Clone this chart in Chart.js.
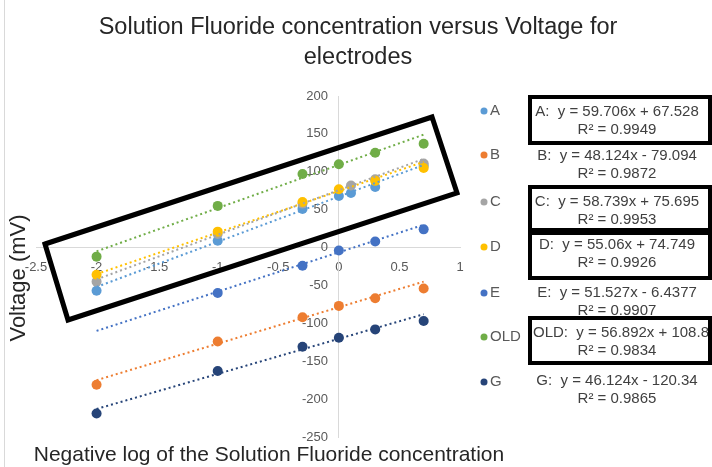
<!DOCTYPE html>
<html>
<head>
<meta charset="utf-8">
<script src="https://cdn.jsdelivr.net/npm/chart.js@4.4.1/dist/chart.umd.min.js"></script>
<style>
  html, body { margin: 0; padding: 0; background: #ffffff; }
  #wrap { position: relative; width: 712px; height: 467px; }
</style>
</head>
<body>
<div id="wrap"><canvas id="c" width="712" height="467"></canvas></div>
<script>
// ---- data ----
const chartTitle = ['Solution Fluoride concentration versus Voltage for', 'electrodes'];
const xAxisTitle = 'Negative log of the Solution Fluoride concentration';
const yAxisTitle = 'Voltage (mV)';

const seriesNames = ['A', 'B', 'C', 'D', 'E', 'OLD', 'G'];
const xValues = [-2, -1, -0.3, 0, 0.1, 0.3, 0.7];

const seriesA   = [-57, 9, 51, 68, 72, 80, 108];
const seriesB   = [-181, -124, -92, -77, null, -67, -54];
const seriesC   = [-45, 18, 58, null, 82, 90, 111];
const seriesD   = [-36, 21, 60, 77, null, 88, 105];
const seriesE   = [null, -60, -24, -4, null, 8, 24];
const seriesOLD = [-12, 55, 97, 110, null, 125, 137];
const seriesG   = [-219, -163, -131, -119, null, -108, -97];

// trendline end values (at x = -2 and x = 0.7)
const trendX     = [-2, 0.7];
const trendStart = [-52, -175, -42, -35, -110, -5, -213];
const trendEnd   = [109, -45, 117, 113, 30, 149, -88];

const equations = [
  'A:  y = 59.706x + 67.528', 'B:  y = 48.124x - 79.094', 'C:  y = 58.739x + 75.695',
  'D:  y = 55.06x + 74.749', 'E:  y = 51.527x - 6.4377', 'OLD:  y = 56.892x + 108.8',
  'G:  y = 46.124x - 120.34'
];
const rSquared = ['R² = 0.9949', 'R² = 0.9872', 'R² = 0.9953', 'R² = 0.9926', 'R² = 0.9907', 'R² = 0.9834', 'R² = 0.9865'];
const boxedEquations = ['A', 'C', 'D', 'OLD'];

const xTicks = [-2.5, -2, -1.5, -1, -0.5, 0, 0.5, 1];
const yTicks = [-250, -200, -150, -100, -50, 0, 50, 100, 150, 200];

// ---- styling ----
const colors = ['#5B9BD5', '#ED7D31', '#A5A5A5', '#FFC000', '#4472C4', '#70AD47', '#264478'];
const allSeries = [seriesA, seriesB, seriesC, seriesD, seriesE, seriesOLD, seriesG];
const FONT = "'Liberation Sans', Arial, sans-serif";
Chart.defaults.font.family = FONT;

const datasets = [];
allSeries.forEach((vals, i) => {
  const pts = [];
  xValues.forEach((x, j) => { if (vals[j] !== null) pts.push({ x: x, y: vals[j] }); });
  datasets.push({
    type: 'scatter', label: seriesNames[i], data: pts,
    backgroundColor: colors[i], borderColor: colors[i],
    pointRadius: 5, pointHoverRadius: 5, pointBorderWidth: 0,
    order: 20 - i
  });
});
allSeries.forEach((vals, i) => {
  datasets.push({
    type: 'line', label: seriesNames[i] + ' trend',
    data: [{ x: trendX[0], y: trendStart[i] }, { x: trendX[1], y: trendEnd[i] }],
    borderColor: colors[i], borderWidth: 2, borderDash: [2, 3],
    pointRadius: 0, fill: false, order: 1
  });
});

const decor = {
  id: 'decor',
  afterDraw(chart) {
    const ctx = chart.ctx;
    ctx.save();
    // faint left border
    ctx.strokeStyle = '#d9d9d9'; ctx.lineWidth = 1;
    ctx.beginPath(); ctx.moveTo(4.5, 0); ctx.lineTo(4.5, 467); ctx.stroke();

    // title
    ctx.fillStyle = '#262626';
    ctx.textAlign = 'center'; ctx.textBaseline = 'middle';
    ctx.font = '23.5px ' + FONT;
    ctx.fillText(chartTitle[0], 358, 28);
    ctx.fillText(chartTitle[1], 358, 58);

    // axis titles
    ctx.font = '21px ' + FONT;
    ctx.fillText(xAxisTitle, 269, 455);
    ctx.save();
    ctx.translate(19, 278); ctx.rotate(-Math.PI / 2);
    ctx.font = '22px ' + FONT;
    ctx.fillText(yAxisTitle, 0, 0);
    ctx.restore();

    // legend
    const legY = [111, 155, 202, 247, 293, 337, 382];
    ctx.font = '15px ' + FONT;
    ctx.textAlign = 'left';
    seriesNames.forEach((n, i) => {
      ctx.fillStyle = colors[i];
      ctx.beginPath(); ctx.arc(484, legY[i], 3.5, 0, Math.PI * 2); ctx.fill();
      ctx.fillStyle = '#595959';
      ctx.fillText(n, 490, legY[i]);
    });

    // equations
    const eqY = [112, 156, 202, 245, 293, 333, 381];
    const eqX = [617, 617, 617, 617, 617, 621, 617];
    ctx.fillStyle = '#404040';
    ctx.textAlign = 'center';
    ctx.font = '15px ' + FONT;
    seriesNames.forEach((n, i) => {
      ctx.fillText(equations[i], eqX[i], eqY[i]);
      ctx.fillText(rSquared[i], 617, eqY[i] + 18);
    });

    // boxes around equations
    ctx.strokeStyle = '#000000'; ctx.lineWidth = 4;
    const boxes = { 'A': [97, 143], 'C': [187, 230], 'D': [233, 278], 'OLD': [318, 363] };
    boxedEquations.forEach(k => {
      const b = boxes[k];
      ctx.strokeRect(530, b[0], 180, b[1] - b[0]);
    });

    // rotated highlight rectangle over the plot
    ctx.lineWidth = 5;
    ctx.beginPath();
    ctx.moveTo(45, 244); ctx.lineTo(432, 117); ctx.lineTo(457, 193); ctx.lineTo(68, 320);
    ctx.closePath(); ctx.stroke();
    ctx.restore();
  }
};

new Chart(document.getElementById('c'), {
  data: { datasets: datasets },
  options: {
    responsive: false, animation: false, devicePixelRatio: 1,
    layout: { padding: { left: 36, right: 252, top: 96, bottom: 30 } },
    plugins: { legend: { display: false }, title: { display: false }, tooltip: { enabled: false } },
    scales: {
      x: {
        type: 'linear', min: -2.5, max: 1, position: { y: 0 },
        afterBuildTicks: s => { s.ticks = xTicks.map(v => ({ value: v })); },
        grid: { display: false, drawTicks: false },
        border: { display: true, color: '#d9d9d9', width: 1 },
        ticks: { color: '#595959', font: { size: 13 }, padding: 12, autoSkip: false, maxRotation: 0,
                 callback: v => String(v) }
      },
      y: {
        type: 'linear', min: -250, max: 200, position: { x: 0 },
        afterBuildTicks: s => { s.ticks = yTicks.map(v => ({ value: v })); },
        grid: { display: false, drawTicks: false },
        border: { display: true, color: '#d9d9d9', width: 1 },
        ticks: { color: '#595959', font: { size: 13 }, autoSkip: false,
                 callback: v => String(v) + '   ' }
      }
    }
  },
  plugins: [decor]
});
</script>
</body>
</html>
